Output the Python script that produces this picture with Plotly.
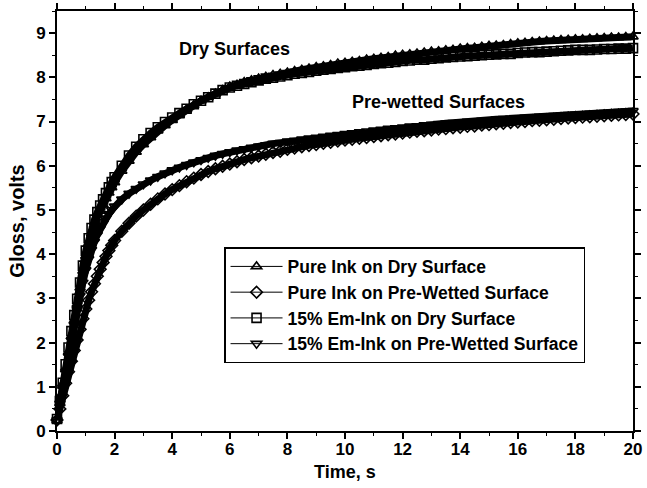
import plotly.graph_objects as go

# Sampling times (s)
TIME = [
    0.0, 0.1, 0.2, 0.3, 0.4, 0.5, 0.6, 0.7, 0.8, 0.9,
    1.0, 1.1, 1.2, 1.3, 1.4, 1.5, 1.6, 1.7, 1.8, 1.9, 2.0,
    2.25, 2.5, 2.75, 3.0, 3.25, 3.5, 3.75, 4.0,
    4.25, 4.5, 4.75, 5.0, 5.25, 5.5, 5.75, 6.0,
    6.25, 6.5, 6.75, 7.0, 7.25, 7.5, 7.75, 8.0,
    8.25, 8.5, 8.75, 9.0, 9.25, 9.5, 9.75, 10.0,
    10.25, 10.5, 10.75, 11.0, 11.25, 11.5, 11.75, 12.0,
    12.25, 12.5, 12.75, 13.0, 13.25, 13.5, 13.75, 14.0,
    14.25, 14.5, 14.75, 15.0, 15.25, 15.5, 15.75, 16.0,
    16.25, 16.5, 16.75, 17.0, 17.25, 17.5, 17.75, 18.0,
    18.25, 18.5, 18.75, 19.0, 19.25, 19.5, 19.75, 20.0,
]

# Gloss readings (volts)
PURE_INK_DRY = [
    0.24, 0.63, 1.02, 1.39, 1.77, 2.14, 2.50, 2.87, 3.24, 3.62,
    3.96, 4.24, 4.47, 4.66, 4.83, 4.98, 5.12, 5.26, 5.39, 5.51, 5.62,
    5.88, 6.11, 6.31, 6.48, 6.64, 6.79, 6.91, 7.03,
    7.15, 7.27, 7.37, 7.47, 7.55, 7.63, 7.71, 7.79,
    7.83, 7.89, 7.93, 7.97, 8.01, 8.05, 8.08, 8.11,
    8.14, 8.17, 8.20, 8.23, 8.25, 8.28, 8.31, 8.33,
    8.35, 8.37, 8.40, 8.42, 8.44, 8.46, 8.49, 8.51,
    8.52, 8.54, 8.56, 8.58, 8.59, 8.61, 8.62, 8.65,
    8.66, 8.67, 8.69, 8.71, 8.72, 8.73, 8.75, 8.77,
    8.78, 8.80, 8.81, 8.82, 8.83, 8.84, 8.85, 8.86,
    8.86, 8.87, 8.88, 8.89, 8.90, 8.90, 8.91, 8.92,
]

PURE_INK_WET = [
    0.25, 0.50, 0.80, 1.08, 1.34, 1.58, 1.82, 2.06, 2.30, 2.54,
    2.76, 2.96, 3.15, 3.33, 3.50, 3.66, 3.81, 3.95, 4.08, 4.20, 4.31,
    4.52, 4.70, 4.86, 5.00, 5.13, 5.25, 5.36, 5.46,
    5.55, 5.64, 5.72, 5.80, 5.87, 5.93, 5.99, 6.04,
    6.09, 6.14, 6.18, 6.22, 6.26, 6.30, 6.33, 6.37,
    6.40, 6.43, 6.46, 6.48, 6.51, 6.53, 6.56, 6.58,
    6.60, 6.62, 6.64, 6.66, 6.68, 6.70, 6.72, 6.74,
    6.76, 6.78, 6.79, 6.81, 6.83, 6.84, 6.86, 6.87,
    6.89, 6.90, 6.92, 6.93, 6.95, 6.96, 6.98, 6.99,
    7.00, 7.02, 7.03, 7.04, 7.05, 7.07, 7.08, 7.09,
    7.10, 7.11, 7.12, 7.13, 7.14, 7.15, 7.16, 7.17,
]

EM_INK_DRY = [
    0.27, 0.68, 1.09, 1.51, 1.89, 2.26, 2.62, 2.99, 3.36, 3.74,
    4.08, 4.36, 4.59, 4.78, 4.95, 5.10, 5.24, 5.38, 5.51, 5.63, 5.74,
    6.00, 6.23, 6.43, 6.60, 6.74, 6.87, 6.99, 7.09,
    7.19, 7.29, 7.39, 7.47, 7.55, 7.63, 7.71, 7.77,
    7.81, 7.85, 7.89, 7.93, 7.97, 7.99, 8.02, 8.05,
    8.08, 8.10, 8.12, 8.15, 8.17, 8.19, 8.21, 8.23,
    8.25, 8.26, 8.28, 8.30, 8.32, 8.33, 8.35, 8.37,
    8.38, 8.40, 8.40, 8.42, 8.43, 8.45, 8.46, 8.47,
    8.48, 8.49, 8.50, 8.51, 8.52, 8.53, 8.53, 8.55,
    8.56, 8.57, 8.57, 8.58, 8.59, 8.60, 8.61, 8.62,
    8.62, 8.62, 8.63, 8.64, 8.64, 8.65, 8.65, 8.66,
]

EM_INK_WET = [
    0.25, 0.62, 0.98, 1.34, 1.70, 2.05, 2.40, 2.74, 3.06, 3.36,
    3.64, 3.89, 4.10, 4.28, 4.44, 4.58, 4.70, 4.81, 4.91, 5.00, 5.08,
    5.24, 5.37, 5.48, 5.58, 5.67, 5.75, 5.83, 5.90,
    5.96, 6.02, 6.08, 6.13, 6.18, 6.23, 6.27, 6.31,
    6.35, 6.38, 6.41, 6.44, 6.47, 6.50, 6.52, 6.55,
    6.57, 6.60, 6.62, 6.64, 6.66, 6.68, 6.70, 6.72,
    6.74, 6.76, 6.78, 6.80, 6.82, 6.84, 6.85, 6.87,
    6.89, 6.90, 6.92, 6.93, 6.95, 6.96, 6.97, 6.99,
    7.00, 7.01, 7.02, 7.03, 7.05, 7.06, 7.07, 7.08,
    7.09, 7.10, 7.11, 7.12, 7.13, 7.14, 7.15, 7.16,
    7.17, 7.18, 7.19, 7.20, 7.21, 7.22, 7.23, 7.24,
]

SERIES_NAMES = [
    "Pure Ink on Dry Surface",
    "Pure Ink on Pre-Wetted Surface",
    "15% Em-Ink on Dry Surface",
    "15% Em-Ink on Pre-Wetted Surface",
]
SERIES_VALUES = [PURE_INK_DRY, PURE_INK_WET, EM_INK_DRY, EM_INK_WET]
SERIES_SYMBOLS = ["triangle-up-open", "diamond-open", "square-open", "triangle-down-open"]

X_TICKS = [0, 2, 4, 6, 8, 10, 12, 14, 16, 18, 20]
Y_TICKS = [0, 1, 2, 3, 4, 5, 6, 7, 8, 9]

FONT = "Liberation Sans, Arial, Helvetica, sans-serif"

fig = go.Figure()

# Densely sampled readings: the overlapping open symbols merge into a solid band
for vals in SERIES_VALUES:
    fig.add_trace(go.Scatter(
        x=TIME, y=vals, mode="lines", showlegend=False, hoverinfo="skip",
        line=dict(color="black", width=7),
        cliponaxis=False,
    ))

for name, vals, sym in zip(SERIES_NAMES, SERIES_VALUES, SERIES_SYMBOLS):
    fig.add_trace(go.Scatter(
        x=TIME, y=vals, name=name, mode="lines+markers",
        line=dict(color="black", width=1),
        marker=dict(symbol=sym, size=9, color="black", line=dict(color="black", width=1.6)),
        cliponaxis=False,
    ))

axis_common = dict(
    showline=True, linecolor="black", linewidth=2, mirror="allticks",
    ticks="outside", ticklen=6, tickwidth=1.5, tickcolor="black",
    showgrid=False, zeroline=False, automargin=False,
    tickfont=dict(family=FONT, size=17, color="black", weight="bold"),
)

fig.update_xaxes(
    range=[0, 20], tickvals=X_TICKS, ticktext=[str(v) for v in X_TICKS],
    minor=dict(dtick=1, ticks="outside", ticklen=3, tickwidth=1.2, tickcolor="black"),
    ticklabelstandoff=-4,
    **axis_common,
)
fig.update_yaxes(
    range=[0, 9.5], tickvals=Y_TICKS, ticktext=[str(v) for v in Y_TICKS],
    minor=dict(dtick=0.5, ticks="outside", ticklen=3, tickwidth=1.2, tickcolor="black"),
    title=dict(text="Gloss, volts", font=dict(family=FONT, size=20, color="black", weight="bold"), standoff=6),
    **axis_common,
)

# x-axis title placed just under the tick labels
fig.add_annotation(
    text="Time, s", xref="paper", yref="paper", x=0.5, y=-0.097,
    xanchor="center", yanchor="middle", showarrow=False,
    font=dict(family=FONT, size=18, color="black", weight="bold"),
)

ann_font = dict(family=FONT, size=18, color="black", weight="bold")
fig.add_annotation(x=6.18, y=8.64, text="Dry Surfaces", showarrow=False, font=ann_font)
fig.add_annotation(x=13.26, y=7.44, text="Pre-wetted Surfaces", showarrow=False, font=ann_font)

fig.update_layout(
    width=647, height=488,
    margin=dict(l=57, r=14, t=11, b=57),
    paper_bgcolor="white", plot_bgcolor="white",
    showlegend=True,
    legend=dict(
        x=0.29, y=0.438, xanchor="left", yanchor="top",
        bgcolor="white", bordercolor="black", borderwidth=1.5,
        font=dict(family=FONT, size=17.5, color="black", weight="bold"),
        itemwidth=52, tracegroupgap=0,
    ),
)

fig.write_html("out.html")
